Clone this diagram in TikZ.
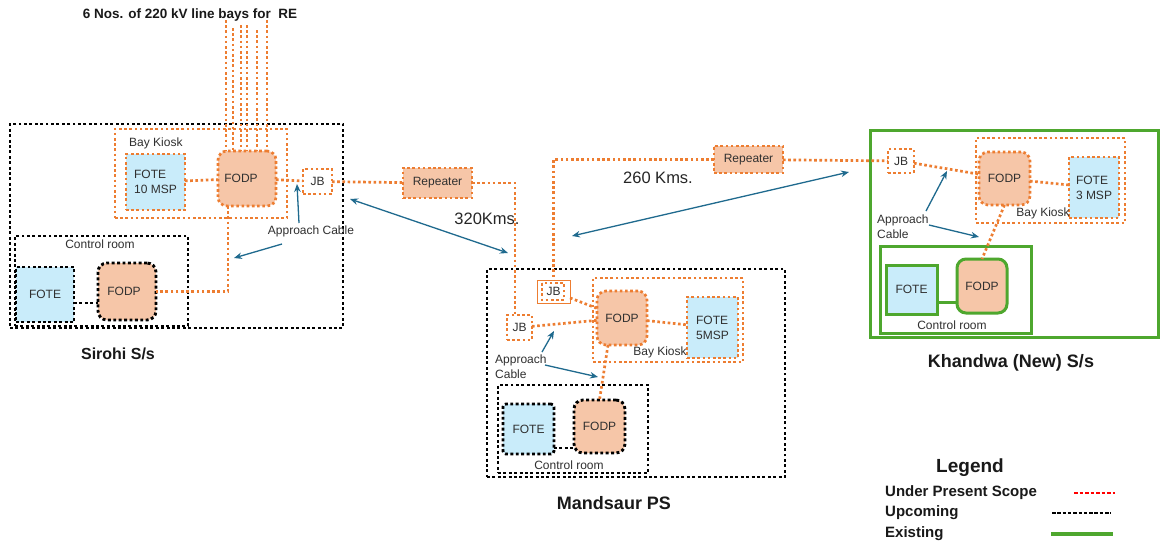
\documentclass[tikz,border=0pt]{standalone}
\usepackage{fontspec}
\setmainfont{Liberation Sans}
\usetikzlibrary{arrows.meta}
\definecolor{ora}{HTML}{ED7D31}
\definecolor{fodpc}{HTML}{F6C6A8}
\definecolor{fotec}{HTML}{C9ECFA}
\definecolor{grn}{HTML}{4EA72E}
\definecolor{arr}{HTML}{1F6A8E}
\definecolor{lbl}{HTML}{303030}
\definecolor{legred}{HTML}{FF0000}
\newcommand\myfs[2]{\fontsize{#1pt}{#2pt}\selectfont}
\tikzset{
 odot/.style={draw=ora, line width=2.7pt, dash pattern=on 2.6pt off 2.6pt},
 kdot/.style={draw=black, line width=2.9pt, dash pattern=on 2.9pt off 2.5pt},
 gsol/.style={draw=grn, line width=3pt},
 box/.style={rectangle, inner sep=0pt, outer sep=0pt},
 fodp/.style={box, fill=fodpc, rounded corners=9pt, font=\myfs{12}{14}, text=lbl},
 fote/.style={box, fill=fotec, font=\myfs{12}{15}, text=lbl, align=left},
 jbox/.style={box, font=\myfs{12}{14}, text=lbl},
 lab/.style={font=\myfs{12}{15}, text=lbl, inner sep=0pt, align=left},
 big/.style={font=\myfs{16.5}{19}, text=black!85, inner sep=0pt},
 ttl/.style={font=\bfseries\myfs{#1}{#1}, text=black!90, inner sep=0pt},
 barrow/.style={draw=arr, line width=1.3pt, -{Stealth[length=8pt,width=6.5pt]}},
 darrow/.style={draw=arr, line width=1.3pt, {Stealth[length=8pt,width=6.5pt]}-{Stealth[length=8pt,width=6.5pt]}},
 oline/.style={draw=ora, line width=2.7pt, dash pattern=on 2.6pt off 2.6pt},
 kline/.style={draw=black, line width=2.9pt, dash pattern=on 2.9pt off 2.5pt},
}
\begin{document}
\begin{tikzpicture}[x=1pt,y=-1pt]
\fill[white] (0,0) rectangle (1160,550);
\useasboundingbox (0,0) rectangle (1160,550);

% ---------------- Sirohi ----------------
\node[box,kdot,minimum width=333pt,minimum height=204pt] (sOut) at (176.5,226) {};
\node[box,odot,minimum width=172pt,minimum height=89pt] (sKiosk) at (201,173.5) {};
\node[box,kdot,minimum width=173pt,minimum height=90pt] (sCR) at (101.5,281) {};
\node[fote,odot,minimum width=59pt,minimum height=56pt] (sFote) at (155.5,182) {FOTE\\10 MSP};
\node[fodp,odot,minimum width=58pt,minimum height=55pt] (sFodp) at (247,178.5) {FODP\hspace*{12pt}};
\node[jbox,odot,minimum width=29pt,minimum height=25pt] (sJB) at (317.5,181.5) {JB};
\node[fote,kdot,minimum width=58pt,minimum height=55pt] (sFoteC) at (45,294.5) {FOTE};
\node[fodp,kdot,minimum width=58pt,minimum height=57pt] (sFodpC) at (127,291.5) {FODP\hspace*{6pt}};

\node[lab,anchor=west] (sBK) at (129,143) {Bay Kiosk};
\node[lab] (sCRl) at (100,244) {Control room};
\node[lab] (sAC) at (311,231) {Approach Cable};
\node[ttl=16] (sName) at (118,354) {Sirohi S/s};
\node[ttl=13.5] (title) at (190,15) {6 Nos. of 220 kV line bays for \ RE};

% six line bays
\coordinate (b1) at (226,20);
\coordinate (b2) at (233,28);
\coordinate (b3) at (241,25);
\coordinate (b4) at (247,25);
\coordinate (b5) at (257,30);
\coordinate (b6) at (267,20);
\foreach \b in {b1,b2,b3,b4,b5,b6}{\draw[oline] (\b) -- (\b |- sFodp.north);}

\draw[oline] (sFote) -- (sFodp);
\draw[oline] (sFodp) -- (sJB);
\draw[oline] ([xshift=-19pt]sFodp.south) |- (sFodpC.east);
\draw[kline] (sFoteC.east |- 0,303) -- (sFodpC.west |- 0,303);

% ---------------- Repeaters ----------------
\node[jbox,fill=fodpc,odot,minimum width=69pt,minimum height=30pt] (rep1) at (437.5,183) {Repeater};
\node[jbox,fill=fodpc,odot,minimum width=69pt,minimum height=27pt] (rep2) at (748.5,159.5) {Repeater};

% ---------------- Mandsaur ----------------
\node[box,kdot,minimum width=298pt,minimum height=208pt] (mOut) at (636,373) {};
\node[box,odot,minimum width=150pt,minimum height=84pt] (mKiosk) at (668,320) {};
\node[box,kdot,minimum width=150pt,minimum height=88pt] (mCR) at (573,429) {};
\node[fodp,odot,minimum width=50pt,minimum height=54pt] (mFodp) at (622,318) {FODP};
\node[fote,odot,minimum width=51pt,minimum height=61pt] (mFote) at (712.5,327.5) {FOTE\\5MSP};
\node[jbox,draw=ora,line width=1pt,minimum width=33pt,minimum height=23pt] (mJBu) at (553.5,291.5) {JB};
\draw[odot] ([shift={(5pt,-3pt)}]mJBu.north west) rectangle ([shift={(-6pt,3pt)}]mJBu.south east);
\node[jbox,odot,minimum width=25pt,minimum height=25pt] (mJBl) at (519.5,327.5) {JB};
\node[fote,kdot,rounded corners=3pt,minimum width=51pt,minimum height=50pt] (mFoteC) at (528.5,429) {FOTE};
\node[fodp,kdot,minimum width=51pt,minimum height=53pt] (mFodpC) at (599.5,426.5) {FODP};

\node[lab] (mBK) at (660,352) {Bay Kiosk};
\node[lab,anchor=west] (mAC) at (495,366.5) {Approach\\Cable};
\node[lab] (mCRl) at (569,465) {Control room};
\node[ttl=18] (mName) at (614,503) {Mandsaur PS};

\draw[oline] (mJBu) -- (mFodp);
\draw[oline] (mJBl) -- (mFodp);
\draw[oline] (mFodp) -- (mFote);
\draw[oline] ([xshift=-14pt]mFodp.south) -- (mFodpC.north);
\draw[kline] (mFoteC.east |- 0,448) -- (mFodpC.west |- 0,448);

% ---------------- Khandwa ----------------
\node[box,gsol,minimum width=288pt,minimum height=207pt] (kOut) at (1014,233.5) {};
\node[box,odot,minimum width=149pt,minimum height=85pt] (kKiosk) at (1050.5,180.5) {};
\node[box,gsol,minimum width=151pt,minimum height=87pt] (kCR) at (955.5,289.5) {};
\node[fodp,odot,minimum width=51pt,minimum height=53pt] (kFodp) at (1004.5,178.5) {FODP};
\node[fote,odot,minimum width=50pt,minimum height=61pt] (kFote) at (1094,187.5) {FOTE\\3 MSP};
\node[jbox,odot,minimum width=26pt,minimum height=24pt] (kJB) at (901,161) {JB};
\node[fote,gsol,minimum width=51pt,minimum height=49pt] (kFoteC) at (911.5,289.5) {FOTE};
\node[fodp,gsol,minimum width=50pt,minimum height=54pt] (kFodpC) at (982,286) {FODP};

\node[lab] (kBK) at (1043,213) {Bay Kiosk};
\node[lab,anchor=west] (kAC) at (877,226.5) {Approach\\Cable};
\node[lab] (kCRl) at (952,325) {Control room};
\node[ttl=18] (kName) at (1011,363) {Khandwa (New) S/s};

\draw[oline] (kJB) -- (kFodp);
\draw[oline] (kFodp) -- (kFote);
\draw[oline] (kFodp.south) -- (kFodpC.north);
\draw[gsol] (kFoteC.east |- 0,302) -- (kFodpC.west |- 0,302);

% ---------------- Long-distance links ----------------
\draw[oline] (sJB) -- (rep1);
\draw[oline] (rep1.east) -| ([xshift=-4.5pt]mJBl.north);
\draw[oline] (rep2.west) -| (mJBu.north);
\draw[oline] (rep2) -- (kJB);

\node[big] (d320) at (487,219) {320Kms.};
\node[big] (d260) at (658,178) {260 Kms.};

\coordinate (a1s) at (350,199);
\coordinate (a1e) at (508,253);
\coordinate (a2s) at (572,236);
\coordinate (a2e) at (849,172);
\draw[darrow] (a1s) -- (a1e);
\draw[darrow] (a2s) -- (a2e);

% approach cable pointers
\coordinate (sP1) at (297,184);
\coordinate (sP2) at (234,258);
\draw[barrow] (299,223) -- (sP1);
\draw[barrow] (282,244) -- (sP2);
\coordinate (mP1) at (554,331);
\coordinate (mP2) at (598,377);
\draw[barrow] (542,352) -- (mP1);
\draw[barrow] (545,365) -- (mP2);
\coordinate (kP1) at (947,171);
\coordinate (kP2) at (979,237);
\draw[barrow] (926,211) -- (kP1);
\draw[barrow] (929,225) -- (kP2);

% ---------------- Legend ----------------
\node[ttl=19] (lg) at (970,468) {Legend};
\node[ttl=15,anchor=west] (lg1) at (885,493) {Under Present Scope};
\node[ttl=15,anchor=west] (lg2) at (885,513) {Upcoming};
\node[ttl=15,anchor=west] (lg3) at (885,534) {Existing};
\coordinate (l1a) at (1074,493); \coordinate (l1b) at (1115,493);
\coordinate (l2a) at (1052,513); \coordinate (l2b) at (1111,513);
\coordinate (l3a) at (1051,534); \coordinate (l3b) at (1113,534);
\draw[legred, line width=1.4pt, dash pattern=on 3.5pt off 2pt] (l1a) -- (l1b);
\draw[black, line width=1.4pt, dash pattern=on 3.5pt off 1.8pt] (l2a) -- (l2b);
\draw[grn, line width=3.5pt] (l3a) -- (l3b);
\end{tikzpicture}
\end{document}
